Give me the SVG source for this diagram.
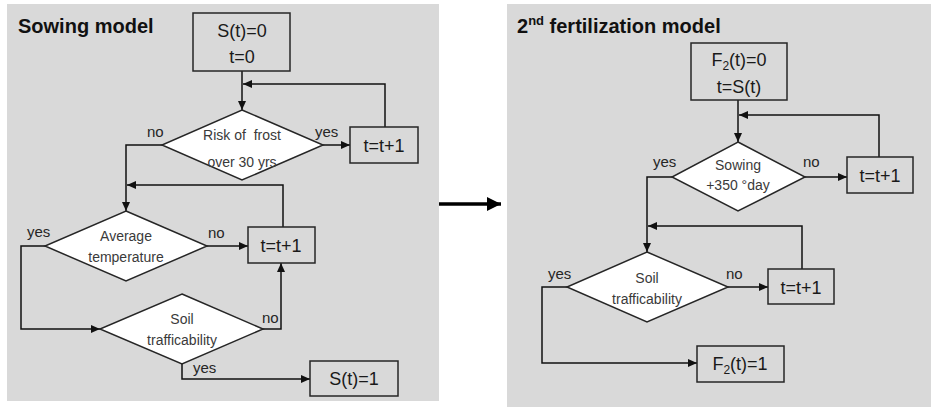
<svg xmlns="http://www.w3.org/2000/svg" width="931" height="407" viewBox="0 0 931 407">
  <style>
    .panel { fill: #d9d9d9; }
    .box { fill: #d9d9d9; stroke: #262626; stroke-width: 1.5; }
    .dia { fill: #ffffff; stroke: #262626; stroke-width: 1.5; }
    .edge { fill: none; stroke: #111; stroke-width: 1.5; }
    .title { font-family: "Liberation Sans", Arial, sans-serif; font-weight: bold; font-size: 20px; fill: #111; }
    .bt { font-family: "Liberation Sans", Arial, sans-serif; font-size: 18px; fill: #1a1a1a; text-anchor: middle; }
    .dt { font-family: "Liberation Sans", Arial, sans-serif; font-size: 14px; fill: #3a3a3a; text-anchor: middle; }
    .lab { font-family: "Liberation Sans", Arial, sans-serif; font-size: 15px; fill: #262626; }
  </style>
  <defs>
    <marker id="ah" markerWidth="9" markerHeight="8" refX="9" refY="4" orient="auto" markerUnits="userSpaceOnUse">
      <path d="M0,0 L9,4 L0,8 Z" fill="#111"/>
    </marker>
    <marker id="big" markerWidth="14" markerHeight="14" refX="14" refY="7" orient="auto" markerUnits="userSpaceOnUse">
      <path d="M0,0 L14,7 L0,14 Z" fill="#000"/>
    </marker>
  </defs>

  <rect width="931" height="407" fill="#ffffff"/>

  <!-- panel backgrounds -->
  <rect class="panel" x="7" y="4" width="432" height="397"/>
  <rect class="panel" x="507" y="4" width="424" height="403"/>

  <!-- titles -->
  <text class="title" x="18" y="33" font-size="20.5">Sowing model</text>
  <text class="title" x="517" y="33" font-size="20.5">2<tspan font-size="13" dy="-8">nd</tspan><tspan dy="8"> fertilization model</tspan></text>

  <!-- connectors -->
  <g id="connectors">
    <!-- sowing model -->
    <path class="edge" d="M242,71 V110" marker-end="url(#ah)"/>
    <path class="edge" d="M385,127 V84 H243" marker-end="url(#ah)"/>
    <path class="edge" d="M323,145 H350" marker-end="url(#ah)"/>
    <path class="edge" d="M162,145 H126 V211" marker-end="url(#ah)"/>
    <path class="edge" d="M283,227 V185 H127" marker-end="url(#ah)"/>
    <path class="edge" d="M207,246 H248" marker-end="url(#ah)"/>
    <path class="edge" d="M45,246 H21 V329 H100" marker-end="url(#ah)"/>
    <path class="edge" d="M263,329 H281 V263" marker-end="url(#ah)"/>
    <path class="edge" d="M182,364 V379 H310" marker-end="url(#ah)"/>
    <!-- link between the two models -->
    <path d="M439,204 H501" stroke="#000" stroke-width="3.5" fill="none" marker-end="url(#big)"/>
    <!-- 2nd fertilization model -->
    <path class="edge" d="M738,100 V142" marker-end="url(#ah)"/>
    <path class="edge" d="M879,157 V115 H739" marker-end="url(#ah)"/>
    <path class="edge" d="M805,177 H847" marker-end="url(#ah)"/>
    <path class="edge" d="M672,177 H647 V252" marker-end="url(#ah)"/>
    <path class="edge" d="M802,269 V226 H648" marker-end="url(#ah)"/>
    <path class="edge" d="M728,287 H768" marker-end="url(#ah)"/>
    <path class="edge" d="M567,287 H542 V363 H697" marker-end="url(#ah)"/>
  </g>

  <!-- edge labels -->
  <g id="labels">
    <text class="lab" x="147" y="137">no</text>
    <text class="lab" x="315" y="137">yes</text>
    <text class="lab" x="27" y="237">yes</text>
    <text class="lab" x="208" y="238">no</text>
    <text class="lab" x="262" y="323">no</text>
    <text class="lab" x="193" y="373">yes</text>
    <text class="lab" x="653" y="167">yes</text>
    <text class="lab" x="803" y="167">no</text>
    <text class="lab" x="548" y="279">yes</text>
    <text class="lab" x="726" y="279">no</text>
  </g>

  <!-- sowing model nodes -->
  <g id="s-start">
    <rect class="box" x="193" y="13" width="97" height="58"/>
    <text class="bt" x="242" y="37">S(t)=0</text>
    <text class="bt" x="242" y="63">t=0</text>
  </g>
  <g id="s-frost">
    <polygon class="dia" points="242,110 323,145 242,180 162,145"/>
    <text class="dt" x="242" y="140">Risk of&#160; frost</text>
    <text class="dt" x="242" y="167">over 30 yrs</text>
  </g>
  <g id="s-inc1">
    <rect class="box" x="350" y="127" width="68" height="36"/>
    <text class="bt" x="384" y="152">t=t+1</text>
  </g>
  <g id="s-temp">
    <polygon class="dia" points="126,211 207,246 126,281 45,246"/>
    <text class="dt" x="126" y="241">Average</text>
    <text class="dt" x="126" y="262">temperature</text>
  </g>
  <g id="s-inc2">
    <rect class="box" x="248" y="227" width="67" height="36"/>
    <text class="bt" x="281" y="252">t=t+1</text>
  </g>
  <g id="s-soil">
    <polygon class="dia" points="182,294 263,329 182,364 100,329"/>
    <text class="dt" x="182" y="324">Soil</text>
    <text class="dt" x="182" y="345">trafficability</text>
  </g>
  <g id="s-end">
    <rect class="box" x="310" y="361" width="88" height="35"/>
    <text class="bt" x="354" y="385">S(t)=1</text>
  </g>

  <!-- 2nd fertilization model nodes -->
  <g id="f-start">
    <rect class="box" x="691" y="43" width="96" height="57"/>
    <text class="bt" x="739" y="66">F<tspan font-size="12" dy="4">2</tspan><tspan dy="-4">(t)=0</tspan></text>
    <text class="bt" x="739" y="93">t=S(t)</text>
  </g>
  <g id="f-sowing">
    <polygon class="dia" points="738,142 805,177 738,211 672,177"/>
    <text class="dt" x="738" y="170">Sowing</text>
    <text class="dt" x="738" y="190">+350 °day</text>
  </g>
  <g id="f-inc1">
    <rect class="box" x="847" y="157" width="66" height="36"/>
    <text class="bt" x="880" y="182">t=t+1</text>
  </g>
  <g id="f-soil">
    <polygon class="dia" points="647,252 728,287 647,322 567,287"/>
    <text class="dt" x="647" y="283">Soil</text>
    <text class="dt" x="647" y="304">trafficability</text>
  </g>
  <g id="f-inc2">
    <rect class="box" x="768" y="269" width="66" height="35"/>
    <text class="bt" x="801" y="294">t=t+1</text>
  </g>
  <g id="f-end">
    <rect class="box" x="697" y="346" width="87" height="36"/>
    <text class="bt" x="740" y="370">F<tspan font-size="12" dy="4">2</tspan><tspan dy="-4">(t)=1</tspan></text>
  </g>
</svg>
